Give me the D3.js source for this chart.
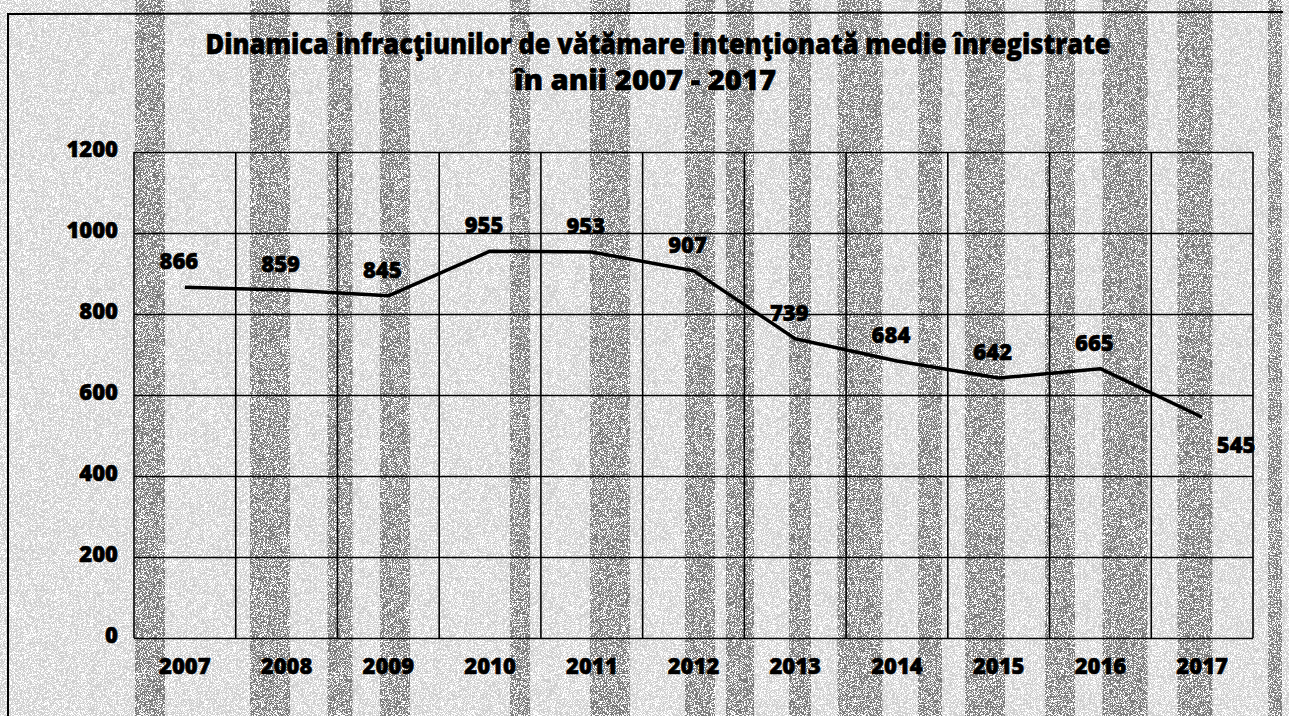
<!DOCTYPE html>
<html>
<head>
<meta charset="utf-8">
<script src="https://cdn.jsdelivr.net/npm/d3@7"></script>
<style>
  html, body { margin: 0; padding: 0; background: #fff; }
  #chart { width: 1289px; height: 716px; }
  text { font-family: "Open Sans", "Noto Sans", sans-serif; font-weight: 800; fill: #000; stroke: #000; stroke-width: 0.6px; }
</style>
</head>
<body>
<div id="chart"></div>
<script>
const years = ["2007", "2008", "2009", "2010", "2011", "2012", "2013", "2014", "2015", "2016", "2017"];
const cases = [866, 859, 845, 955, 953, 907, 739, 684, 642, 665, 545];
const yTicks = [0, 200, 400, 600, 800, 1000, 1200];
const titleLines = ["Dinamica infracţiunilor de vătămare intenţionată medie înregistrate", "în anii 2007 - 2017"];

const width = 1289;
const height = 716;
const margin = { top: 152, right: 36, bottom: 78, left: 134 };

const svg = d3.select("#chart")
    .append("svg")
    .attr("width", width)
    .attr("height", height);

// scanned-paper grain
const defs = svg.append("defs");
const grain = defs.append("filter")
    .attr("id", "grain")
    .attr("x", 0).attr("y", 0).attr("width", "100%").attr("height", "100%");
grain.append("feTurbulence")
    .attr("type", "fractalNoise")
    .attr("baseFrequency", 1.3)
    .attr("numOctaves", 1)
    .attr("seed", 7);
grain.append("feColorMatrix")
    .attr("type", "matrix")
    .attr("values", "0 0 0 0 0  0 0 0 0 0  0 0 0 0 0  0 0 0 -14 8");
grain.append("feComposite")
    .attr("in2", "SourceGraphic")
    .attr("operator", "in");

const bg = svg.append("g");
bg.append("rect")
    .attr("width", width).attr("height", height)
    .attr("fill", "#fff");
// light speckle over everything
bg.append("rect")
    .attr("width", width).attr("height", height)
    .attr("fill", "#000")
    .attr("opacity", 0.18)
    .attr("filter", "url(#grain)");
// darker vertical bands from the scan
const bandX = [150, 270, 340, 395, 520, 610, 700, 740, 800, 860, 930, 985, 1060, 1125, 1195, 1275];
const bandW = [30, 40, 25, 30, 20, 40, 30, 28, 22, 45, 24, 40, 30, 45, 35, 14];
bg.selectAll("rect.band")
    .data(bandX)
    .enter()
    .append("rect")
    .attr("class", "band")
    .attr("x", (d, i) => d - bandW[i] / 2)
    .attr("y", 0)
    .attr("width", (d, i) => bandW[i])
    .attr("height", height)
    .attr("fill", "#000")
    .attr("opacity", 0.4)
    .attr("filter", "url(#grain)");

// outer frame
svg.append("path")
    .attr("d", `M8,${height} L8,14 L${width - 6},12`)
    .attr("fill", "none")
    .attr("stroke", "#000")
    .attr("stroke-width", 2);

const innerRight = width - margin.right;
const innerBottom = height - margin.bottom;

const x = d3.scaleBand()
    .domain(years)
    .range([margin.left, innerRight])
    .padding(0);

const y = d3.scaleLinear()
    .domain([0, 1200])
    .range([innerBottom, margin.top]);

const grid = svg.append("g");

// horizontal gridlines
grid.call(d3.axisLeft(y).tickValues(yTicks).tickSize(-(x.range()[1] - x.range()[0])).tickFormat(""))
    .attr("transform", `translate(${margin.left},0)`);
grid.select(".domain").remove();
grid.selectAll("line").attr("stroke", "#000").attr("stroke-width", 1.6);

// vertical gridlines at category boundaries
const bounds = years.map(d => x(d)).concat([x.range()[1]]);
svg.append("g")
    .selectAll("line")
    .data(bounds)
    .enter()
    .append("line")
    .attr("x1", d => d).attr("x2", d => d)
    .attr("y1", y(1200)).attr("y2", y(0))
    .attr("stroke", "#000")
    .attr("stroke-width", 1.6);

// y labels
const yAxis = svg.append("g")
    .attr("transform", `translate(${margin.left - 16},0)`)
    .call(d3.axisLeft(y).tickValues(yTicks).tickSize(0).tickFormat(d3.format("d")));
yAxis.select(".domain").remove();
yAxis.selectAll("text")
    .attr("x", 0)
    .attr("dy", "0.2em")
    .style("font-size", "22px")
    .style("font-family", "'Open Sans', sans-serif")
    .style("font-weight", 800);

// x labels
const xAxis = svg.append("g")
    .attr("transform", `translate(0,${y(0)})`)
    .call(d3.axisBottom(x).tickSize(0));
xAxis.select(".domain").remove();
xAxis.selectAll("text")
    .attr("y", 20)
    .style("font-size", "22px")
    .style("font-family", "'Open Sans', sans-serif")
    .style("font-weight", 800);

// series line
const line = d3.line()
    .x((d, i) => x(years[i]) + x.bandwidth() / 2)
    .y(d => y(d));

svg.append("path")
    .datum(cases)
    .attr("d", line)
    .attr("fill", "none")
    .attr("stroke", "#000")
    .attr("stroke-width", 3.5)
    .attr("stroke-linejoin", "round");

// data labels
svg.append("g")
    .selectAll("text")
    .data(cases)
    .enter()
    .append("text")
    .attr("x", (d, i) => x(years[i]) + x.bandwidth() / 2 + (i === cases.length - 1 ? 34 : -6))
    .attr("y", (d, i) => y(d) + (i === cases.length - 1 ? 36 : -18))
    .attr("text-anchor", "middle")
    .style("font-size", "22px")
    .text(d => d);

// title
svg.append("g")
    .selectAll("text")
    .data(titleLines)
    .enter()
    .append("text")
    .attr("x", (d, i) => i === 0 ? 658 : 645)
    .attr("y", (d, i) => 54 + i * 36)
    .attr("text-anchor", "middle")
    .attr("textLength", (d, i) => i === 0 ? 905 : 262)
    .attr("lengthAdjust", "spacingAndGlyphs")
    .style("font-size", "28px")
    .text(d => d);
</script>
</body>
</html>
